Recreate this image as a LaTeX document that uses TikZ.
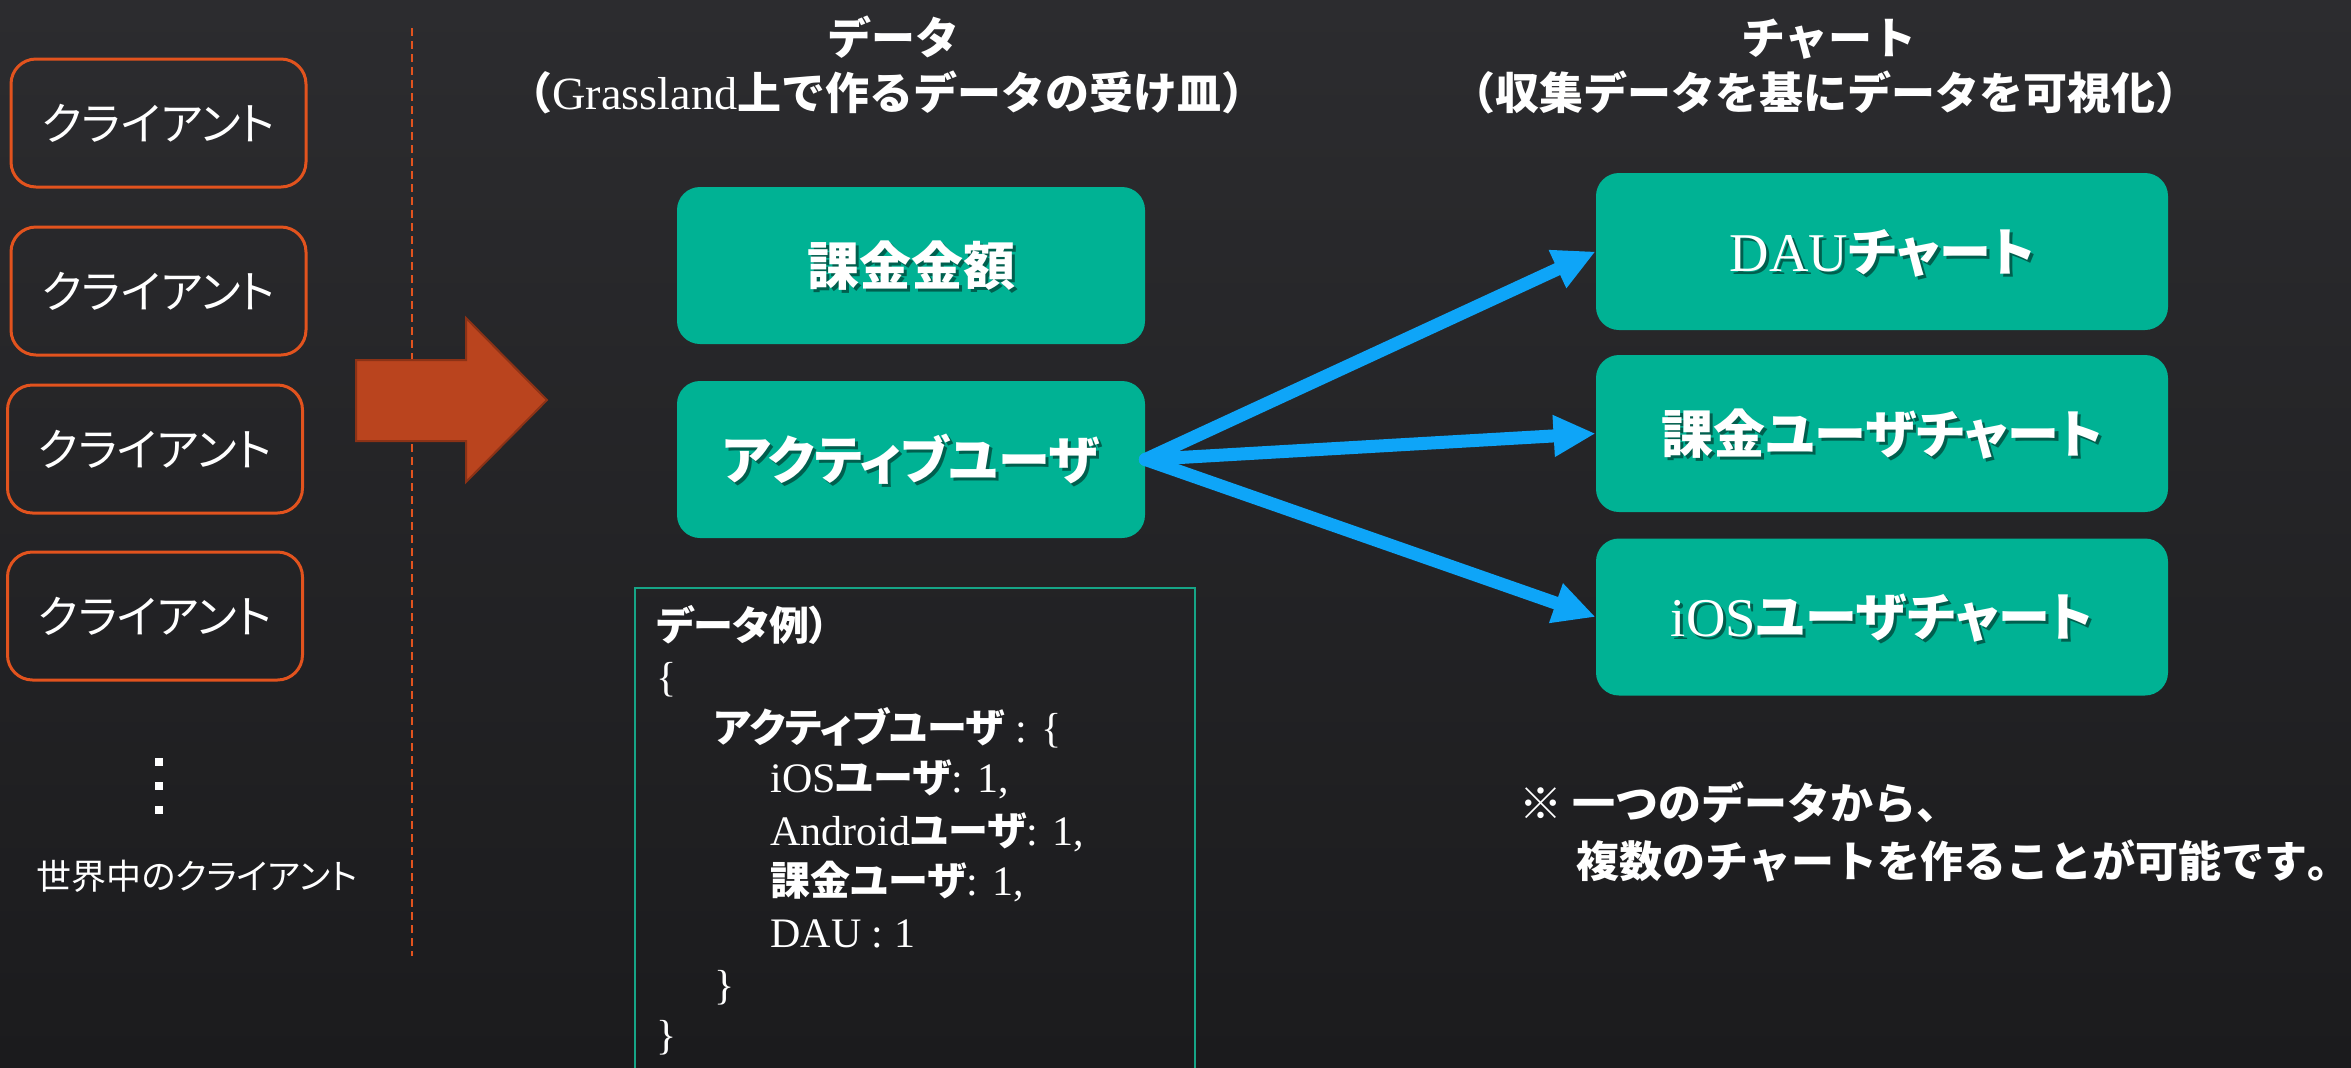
\documentclass[tikz,border=0pt]{standalone}
\usepackage{fontspec}
\setmainfont{Noto Sans CJK JP}[RawFeature=+palt]
\newfontfamily\jpw{Noto Sans CJK JP}
\newfontfamily\ltf{Liberation Serif}[Scale=1.05]
\newcommand{\latn}[1]{{\ltf\mdseries #1}}
\usetikzlibrary{arrows.meta}
\definecolor{bgtop}{RGB}{44,44,47}
\definecolor{bgbot}{RGB}{27,27,29}
\definecolor{corange}{RGB}{226,83,30}
\definecolor{aorange}{RGB}{186,68,30}
\definecolor{aoborder}{RGB}{140,50,22}
\definecolor{tgreen}{RGB}{0,178,148}
\definecolor{tshadow}{RGB}{0,95,78}
\definecolor{tline}{RGB}{22,165,135}
\definecolor{barrowc}{RGB}{14,165,248}
\newcommand{\shtxt}[1]{\makebox[0pt][l]{\hspace{1.5pt}\raisebox{-1.5pt}{\color{tshadow}#1}}#1}
\begin{document}
\begin{tikzpicture}[x=0.5pt,y=-0.5pt,
  client/.style={draw=corange,line width=1.5pt,rounded corners=12.5pt,minimum width=147.5pt,minimum height=64pt,inner sep=0pt,text=white,font=\fontsize{22.5}{27}\selectfont,text height=19.8pt,text depth=2.7pt},
  gbox/.style={fill=tgreen,rounded corners=11.5pt,minimum height=78.5pt,inner sep=0pt,text=white,font=\fontsize{26}{30}\selectfont\bfseries,text height=22.9pt,text depth=3.1pt},
  lbox/.style={gbox,minimum width=234pt},
  rbox/.style={gbox,minimum width=286pt},
  title/.style={anchor=base,inner sep=0pt,text=white,font=\jpw\fontsize{22}{26}\selectfont\bfseries},
  note/.style={anchor=base west,inner sep=0pt,text=white,font=\jpw\fontsize{21.5}{26}\selectfont\bfseries},
  code/.style={anchor=base west,inner sep=0pt,text=white,font=\fontsize{20}{24}\selectfont\bfseries},
  barrow/.style={draw=barrowc,line width=6.5pt,line cap=round,-{Triangle[length=21pt,width=19.5pt]}},
  ]
\useasboundingbox (0,0) rectangle (2351,1067);
\shade[top color=bgtop,bottom color=bgbot] (0,0) rectangle (2351,1067);

% clients
\node[client] (c1) at (158.5,123) {クライアント};
\node[client] (c2) at (158.5,291) {クライアント};
\node[client] (c3) at (155,449) {クライアント};
\node[client] (c4) at (155,616) {クライアント};
\fill[white] (155,758) rectangle (163,766);
\fill[white] (155,782) rectangle (163,790);
\fill[white] (155,806) rectangle (163,814);
\node[anchor=base,inner sep=0pt,text=white,font=\fontsize{17.5}{20}\selectfont] (world) at (197,889) {世界中のクライアント};

% dashed separator
\coordinate (dtop) at (412,28);
\coordinate (dbot) at (412,956);
\draw[corange,line width=1pt,dash pattern=on 4pt off 2.5pt] (dtop) -- (dbot);

% big arrow
\draw[fill=aorange,draw=aoborder,line width=1pt,line join=miter] (356,360) -- (466,360) -- (466,318) -- (547,400) -- (466,482) -- (466,441) -- (356,441) -- cycle;

% titles
\node[title] (t1) at (893,54) {データ};
\node[title] (t1s) at (887,109) {（\latn{Grassland}上で作るデータの受け皿）};
\node[title] (t2) at (1829,54) {チャート};
\node[title] (t2s) at (1825,109) {（収集データを基にデータを可視化）};

% data boxes
\node[lbox] (kakin) at (911,265.5) {\shtxt{課金金額}};
\node[lbox] (act) at (911,459.5) {\shtxt{アクティブユーザ}};
\node[rbox] (dau) at (1882,251.5) {\shtxt{\latn{DAU}チャート}};
\node[rbox] (kuser) at (1882,433.5) {\shtxt{課金ユーザチャート}};
\node[rbox] (ios) at (1882,617) {\shtxt{\latn{iOS}ユーザチャート}};

% connectors
\draw[barrow] (act.east) -- (dau.west);
\draw[barrow] (act.east) -- (kuser.west);
\draw[barrow] (act.east) -- (ios.west);

% example box
\coordinate (bl) at (635,1080);
\coordinate (tl) at (635,588);
\coordinate (tr) at (1195,588);
\coordinate (br) at (1195,1080);
\draw[tline,line width=1pt] (bl) -- (tl) -- (tr) -- (br);
\node[code] (l1) at (656,640) {データ例）};
\node[code] (l2) at (656,691) {\latn{\{}};
\node[code] (l3) at (714,742) {アクティブユーザ\latn{ : \{}};
\node[code] (l4) at (770,792) {\latn{iOS}ユーザ\latn{: 1,}};
\node[code] (l5) at (770,845) {\latn{Android}ユーザ\latn{: 1,}};
\node[code] (l6) at (770,895) {課金ユーザ\latn{: 1,}};
\node[code] (l7) at (770,947) {\latn{DAU : 1}};
\node[code] (l8) at (714,999) {\latn{\}}};
\node[code] (l9) at (656,1049) {\latn{\}}};

% note
\node[note] (n1) at (1519,819) {※ 一つのデータから、};
\node[note] (n2) at (1576,877) {複数のチャートを作ることが可能です{\rmfamily 。}};
\end{tikzpicture}
\end{document}
